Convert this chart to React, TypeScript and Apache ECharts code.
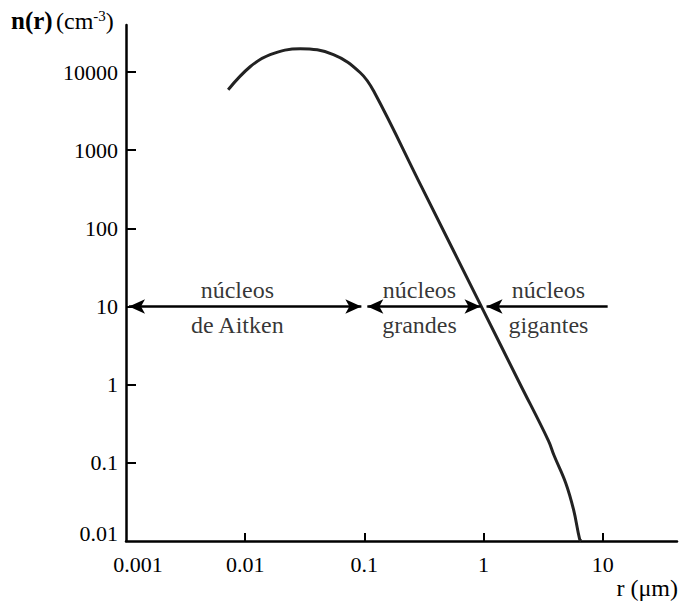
import React, { useEffect, useRef } from 'react';
import * as echarts from 'echarts';

// particle radius r (µm) and concentration n(r) (cm^-3)
const radius = [0.0072, 0.011, 0.0162, 0.029, 0.055, 0.0925, 0.12, 0.3, 1, 2, 3.5, 3.9, 4.9, 5.7, 6.4, 6.6];
const concentration = [5950, 11700, 16700, 19900, 16700, 9800, 5670, 347, 8.8, 1.06, 0.193, 0.125, 0.055, 0.025, 0.0106, 0.01];

// arrows along n = 10 delimiting the three nucleus classes
const arrowLevel = 10;
const arrowStart = [0.001, 0.1, 1];
const arrowEnd = [0.1, 1, 11];
const regionCenter = [0.0086, 0.29, 3.5];
const regionTop = ['núcleos', 'núcleos', 'núcleos'];
const regionBottom = ['de Aitken', 'grandes', 'gigantes'];

// axis ticks / labels
const xTickValues = [0.01, 0.1, 1, 10];
const xLabelValues = [0.001, 0.01, 0.1, 1, 10];
const xLabelTexts = ['0.001', '0.01', '0.1', '1', '10'];
const yTickValues = [0.1, 1, 10, 100, 1000, 10000];
const yLabelValues = [0.01, 0.1, 1, 10, 100, 1000, 10000];
const yLabelTexts = ['0.01', '0.1', '1', '10', '100', '1000', '10000'];

const FONT = 'Liberation Serif';
const HEAD = 16; // arrow head length in px
const HEAD_PULL = 3; // px the arrow end points are pulled inwards
const PX_PER_DECADE = 119.25;

export default function App() {
  const ref = useRef<HTMLDivElement>(null);
  useEffect(() => {
    const chart = echarts.init(ref.current!, null, { renderer: 'svg' });
    const idxOf = (vals: number[], v: number) => {
      let best = 0;
      let bd = Infinity;
      vals.forEach((x, i) => {
        const d = Math.abs(Math.log10(x) - Math.log10(v));
        if (d < bd) { bd = d; best = i; }
      });
      return best;
    };
    const headShift = Math.pow(10, HEAD_PULL / PX_PER_DECADE);
    const textData: any[] = [];
    regionCenter.forEach((c, i) => {
      textData.push({ value: [c, arrowLevel], name: regionTop[i], label: { position: 'top', distance: 5 } });
      textData.push({ value: [c, arrowLevel], name: regionBottom[i], label: { position: 'bottom', distance: 6 } });
    });
    chart.setOption({
      animation: false,
      backgroundColor: '#ffffff',
      grid: { left: 126, right: 4, top: 25, bottom: 66 },
      xAxis: {
        type: 'log',
        logBase: 10,
        min: 0.001,
        max: 42,
        axisLine: { lineStyle: { color: '#000', width: 2.5 } },
        axisTick: { show: true, inside: true, length: 8, lineStyle: { color: '#000', width: 2 }, customValues: xTickValues },
        axisLabel: {
          customValues: xLabelValues,
          margin: 12,
          color: '#000',
          fontFamily: FONT,
          fontSize: 22,
          formatter: (v: number) => {
            const i = idxOf(xLabelValues, v);
            return i === 0 ? '{first|' + xLabelTexts[i] + '}' : xLabelTexts[i];
          },
          rich: { first: { padding: [0, 0, 0, 24], color: '#000', fontFamily: FONT, fontSize: 22 } },
        },
        splitLine: { show: false },
        minorTick: { show: false },
      },
      yAxis: {
        type: 'log',
        logBase: 10,
        min: 0.01,
        max: 40000,
        axisLine: { show: true, lineStyle: { color: '#000', width: 2.5 } },
        axisTick: { show: true, inside: true, length: 10, lineStyle: { color: '#000', width: 2 }, customValues: yTickValues },
        axisLabel: {
          customValues: yLabelValues,
          margin: 8,
          color: '#000',
          fontFamily: FONT,
          fontSize: 22,
          formatter: (v: number) => {
            const i = idxOf(yLabelValues, v);
            return i === 0 ? '{first|' + yLabelTexts[i] + '}' : yLabelTexts[i];
          },
          rich: { first: { padding: [0, 0, 16, 0], color: '#000', fontFamily: FONT, fontSize: 22 } },
        },
        splitLine: { show: false },
        minorTick: { show: false },
      },
      graphic: [
        {
          type: 'text',
          left: 11,
          top: 8,
          style: {
            text: '{b|n(r)} {r|(cm}{s|-3}{r|)}',
            rich: {
              b: { fontFamily: FONT, fontSize: 25, fontWeight: 'bold', fill: '#000' },
              r: { fontFamily: FONT, fontSize: 24, fill: '#000' },
              s: { fontFamily: FONT, fontSize: 15, fill: '#000', verticalAlign: 'top' },
            },
          },
        },
        {
          type: 'text',
          right: 3,
          top: 576,
          style: { text: 'r (μm)', fontFamily: FONT, fontSize: 24, fill: '#000' },
        },
      ],
      series: [
        {
          type: 'line',
          data: radius.map((r, i) => [r, concentration[i]]),
          smooth: 0.4,
          showSymbol: false,
          symbol: 'none',
          lineStyle: { color: '#222', width: 3 },
          clip: true,
          markLine: {
            silent: true,
            symbol: ['arrow', 'arrow'],
            symbolSize: [11, HEAD],
            label: { show: false },
            lineStyle: { color: '#000', width: 2.5, type: 'solid' },
            itemStyle: { color: '#000' },
            data: arrowStart.map((s, i) => [
              { coord: [s * headShift, arrowLevel] },
              i === arrowStart.length - 1
                ? { coord: [arrowEnd[i], arrowLevel], symbol: 'none' }
                : { coord: [arrowEnd[i] / headShift, arrowLevel] },
            ]),
          },
        },
        {
          type: 'scatter',
          symbolSize: 0,
          data: textData,
          itemStyle: { color: 'transparent' },
          label: {
            show: true,
            formatter: (p: any) => p.name,
            color: '#000',
            fontFamily: FONT,
            fontSize: 24,
          },
        },
      ],
    });
    return () => chart.dispose();
  }, []);
  return <div ref={ref} style={{ position: 'absolute', left: 0, top: 0, width: 681, height: 607 }} />;
}
